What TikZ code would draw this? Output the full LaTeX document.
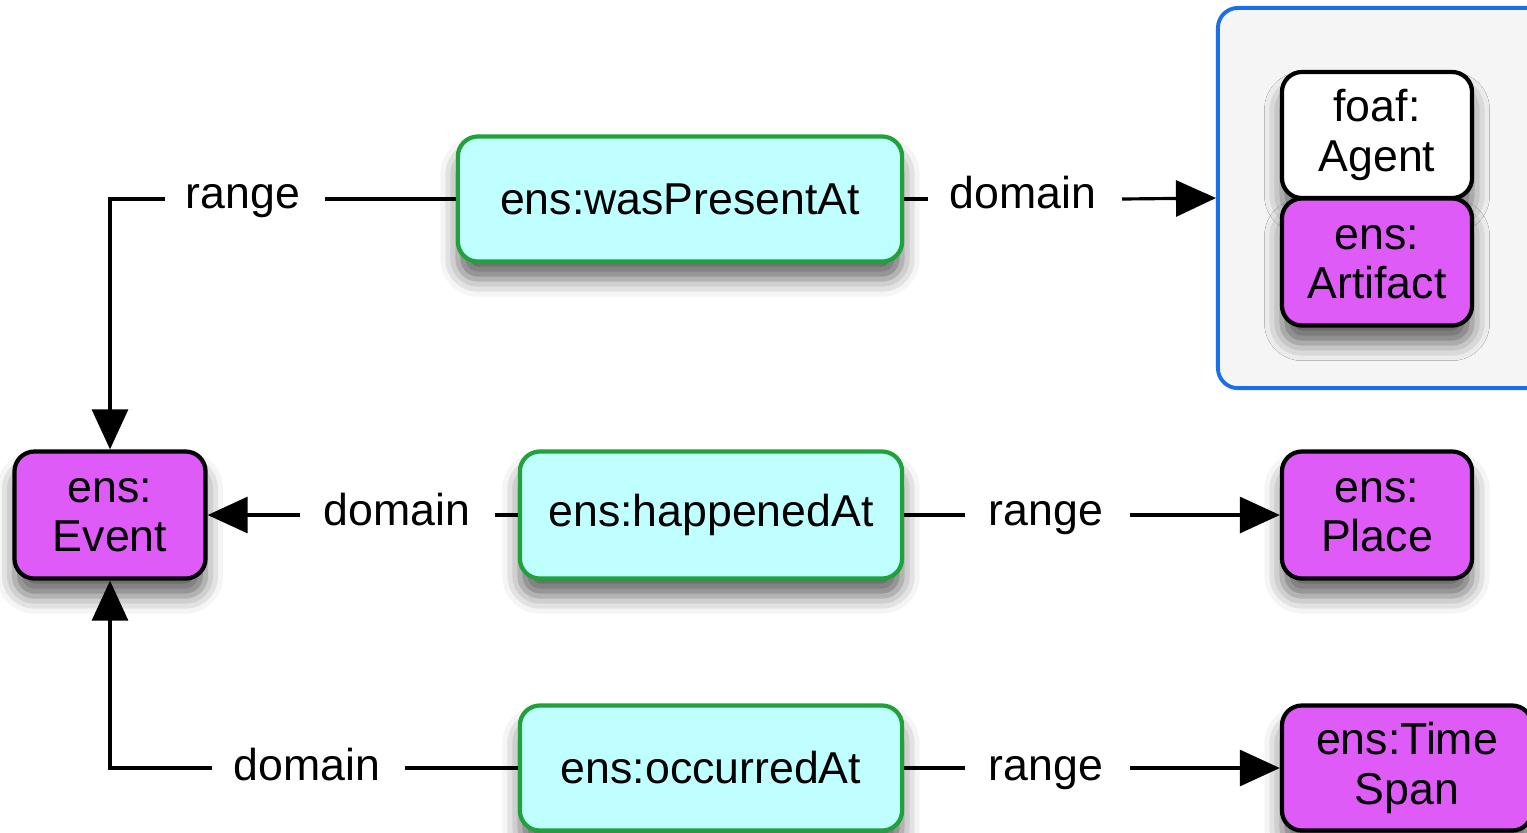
\documentclass[tikz,border=0pt]{standalone}
\usepackage{fontspec}
\setmainfont{Liberation Sans}
\usetikzlibrary{arrows.meta,shadows.blur,positioning}
\definecolor{propfill}{HTML}{BFFFFF}
\definecolor{propborder}{HTML}{1FA23A}
\definecolor{classfill}{HTML}{DF5BF8}
\definecolor{grpborder}{HTML}{1A6FE8}
\tikzset{
  base/.style={rounded corners=0.2cm, line width=1.2pt, align=center, inner sep=0pt,
    font=\fontsize{12.7}{14}\selectfont,
    blur shadow={shadow xshift=0pt, shadow yshift=-5pt, shadow blur radius=5pt, shadow opacity=60}},
  prop/.style={base, draw=propborder, fill=propfill},
  cls/.style={base, draw=black, fill=classfill, minimum width=1.9cm, minimum height=1.27cm},
  agent/.style={base, draw=black, fill=white, minimum width=1.9cm, minimum height=1.26cm},
  lbl/.style={font=\fontsize{12.7}{14}\selectfont, inner sep=0pt, anchor=base},
  conn/.style={line width=0.9pt},
  arr/.style={conn, -{Triangle[length=0.4cm,width=0.36cm]}}
}
\begin{document}
\begin{tikzpicture}[x={(0.01cm,0)}, y={(0,-0.01cm)}]
\useasboundingbox (0,0) rectangle (1527,832);
% group container
\node[draw=grpborder, line width=1.1pt, fill=black!4, rounded corners=0.2cm,
      minimum width=3.3cm, minimum height=3.8cm, inner sep=0pt] (grp) at (1383,198) {};
% property nodes
\node[prop, minimum width=4.44cm, minimum height=1.25cm] (wpa) at (680,199) {ens:wasPresentAt};
\node[prop, minimum width=3.82cm, minimum height=1.27cm] (hap) at (711,515) {ens:happenedAt};
\node[prop, minimum width=3.82cm, minimum height=1.25cm] (occ) at (711,768) {ens:occurredAt};
% class nodes
\node[agent] (agent) at (1377,135) {foaf:\\Agent};
\node[cls] (artifact) at (1377,262) {ens:\\Artifact};
\node[cls, minimum width=1.91cm] (event) at (110,515) {ens:\\Event};
\node[cls] (place) at (1377,515) {ens:\\Place};
\node[cls, minimum width=2.5cm, minimum height=1.25cm] (time) at (1407,768) {ens:Time\\Span};
% labels
\node[lbl] (l1) at (243,208) {range};
\node[lbl] (l2) at (1023,208) {domain};
\node[lbl] (l3) at (397,525) {domain};
\node[lbl] (l4) at (1046,525) {range};
\node[lbl] (l5) at (307,780) {domain};
\node[lbl] (l6) at (1046,780) {range};
% coordinates for line ends
\coordinate (c1a) at (325,199);
\coordinate (c1b) at (165,199);
\coordinate (c2a) at (928,199);
\coordinate (c2b) at (1122,199);
\coordinate (c3a) at (495,515);
\coordinate (c3b) at (300,515);
\coordinate (c4a) at (965,515);
\coordinate (c4b) at (1130,515);
\coordinate (c5a) at (405,768);
\coordinate (c5b) at (212,768);
\coordinate (c6a) at (965,768);
\coordinate (c6b) at (1130,768);
% connectors
\draw[conn] (wpa.west) -- (c1a);
\draw[arr] (c1b) -| (event.north);
\draw[conn] (wpa.east) -- (c2a);
\draw[arr] (c2b) -- (grp.west);
\draw[conn] (hap.west) -- (c3a);
\draw[arr] (c3b) -- (event.east);
\draw[conn] (hap.east) -- (c4a);
\draw[arr] (c4b) -- (place.west);
\draw[conn] (occ.west) -- (c5a);
\draw[arr] (c5b) -| (event.south);
\draw[conn] (occ.east) -- (c6a);
\draw[arr] (c6b) -- (time.west);
\end{tikzpicture}
\end{document}
